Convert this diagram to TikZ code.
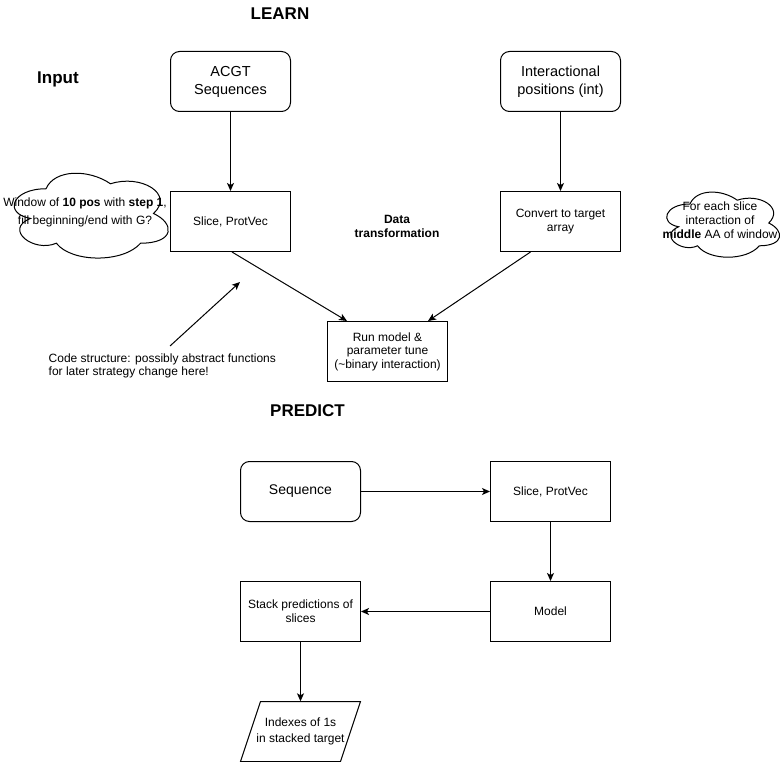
\documentclass[tikz,border=0pt]{standalone}
\usepackage{fontspec}
\setmainfont{Liberation Sans}
\usetikzlibrary{arrows.meta}
\tikzset{
 box/.style={draw, line width=1pt, minimum width=120pt, minimum height=60pt, align=center, font=\fontsize{12}{14}\selectfont, inner sep=2pt},
 rbox/.style={box, rounded corners=9pt},
 big/.style={font=\fontsize{14.5}{18}\selectfont},
 ttl/.style={font=\bfseries\fontsize{17}{20}\selectfont, inner sep=0pt},
 arr/.style={-{Stealth[length=8pt,width=7pt,inset=2pt]}, line width=1pt},
 lbl/.style={align=center, font=\fontsize{12}{14}\selectfont, inner sep=0pt},
 cloudline/.style={draw, line width=1pt},
}
\newcommand\mycloudpath{(0.25,0.25) .. controls (0.05,0.25) and (0,0.5) .. (0.16,0.55) .. controls (0,0.66) and (0.18,0.9) .. (0.31,0.8) .. controls (0.4,1) and (0.7,1) .. (0.8,0.8) .. controls (1,0.8) and (1,0.6) .. (0.875,0.5) .. controls (1,0.3) and (0.8,0.1) .. (0.625,0.2) .. controls (0.5,0.05) and (0.3,0.05) .. (0.25,0.25) -- cycle}
\begin{document}
\begin{tikzpicture}[x=1pt,y=-1pt]
\useasboundingbox (0,0) rectangle (781,762);

% titles
\node[ttl] (learn) at (280,14) {LEARN};
\node[ttl] (input) at (58,79) {Input};
\node[ttl] (predict) at (307.5,411) {PREDICT};

% learn boxes
\node[rbox, big] (acgt) at (230.5,81.5) {ACGT\\Sequences};
\node[rbox, big] (inter) at (560.5,81.5) {Interactional\\positions (int)};
\node[box] (slice) at (230.5,221.5) {Slice, ProtVec};
\node[box] (conv) at (560.5,221.5) {Convert to target\\array};
\node[box, font=\fontsize{12}{13.5}\selectfont] (run) at (387.5,351.5) {Run model \&\\parameter tune\\(\textasciitilde binary interaction)};
\node[lbl, font=\bfseries\fontsize{12}{13.5}\selectfont] (dt) at (397,226.5) {Data\\transformation};

% clouds
\begin{scope}[shift={(3,164)}, x={(172pt,0pt)}, y={(0pt,-99pt)}]
\path[cloudline] \mycloudpath;
\end{scope}
\node[lbl, font=\fontsize{12}{17.5}\selectfont] (lcloud) at (85,212.5) {Window of \textbf{10 pos} with \textbf{step 1},\\fill beginning/end with G?};
\begin{scope}[shift={(658.5,185)}, x={(126pt,0pt)}, y={(0pt,-76pt)}]
\path[cloudline] \mycloudpath;
\end{scope}
\node[lbl] (rcloud) at (720,220.5) {For each slice\\interaction of\\\textbf{middle} AA of window};

% learn arrows
\draw[arr] (acgt) -- (slice);
\draw[arr] (inter) -- (conv);
\draw[arr] ([xshift=1.5pt]slice.south) -- ([xshift=20pt]run.north west);
\draw[arr] ([xshift=-30pt]conv.south) -- ([xshift=-20pt]run.north east);

% code structure note
\node[lbl, align=left, anchor=west, font=\fontsize{12}{13.7}\selectfont] (code) at (48.5,366) {Code structure: possibly abstract functions\\for later strategy change here!};
\coordinate (codetail) at (170,346);
\coordinate (codehead) at (240,282);
\draw[arr] (codetail) -- (codehead);

% predict
\node[rbox, font=\fontsize{14}{17}\selectfont] (seq) at (300.5,491.5) {Sequence};
\node[box] (slice2) at (550.5,491.5) {Slice, ProtVec};
\node[box] (model) at (550.5,611.5) {Model};
\node[box] (stack) at (300.5,611.5) {Stack predictions of\\slices};
\node[lbl, minimum height=60pt, minimum width=100pt, font=\fontsize{12}{16.5}\selectfont] (idx) at (300.5,731.5) {Indexes of 1s\\in stacked target};
\draw[line width=1pt] (260.5,701.5) -- (360.5,701.5) -- (340.5,761.5) -- (240.5,761.5) -- cycle;

\draw[arr] (seq) -- (slice2);
\draw[arr] (slice2) -- (model);
\draw[arr] (model) -- (stack);
\draw[arr] (stack) -- (idx);
\end{tikzpicture}
\end{document}
